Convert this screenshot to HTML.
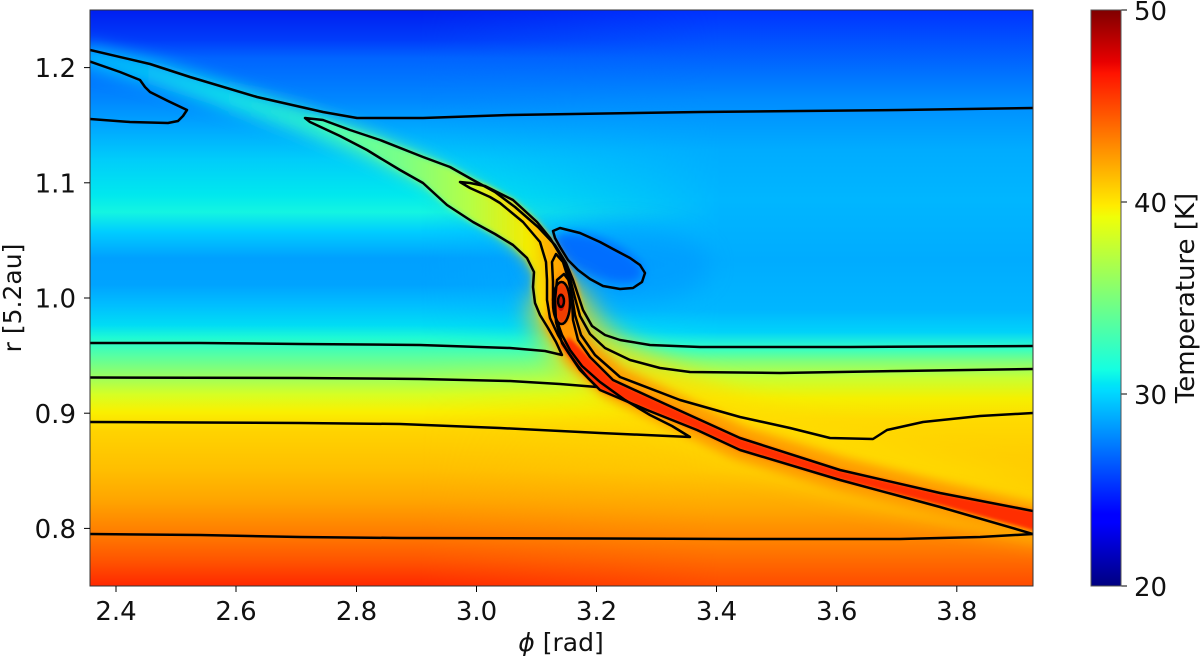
<!DOCTYPE html>
<html><head><meta charset="utf-8"><style>
html,body{margin:0;padding:0;background:#fff;}
svg{display:block;}
text{font-family:"DejaVu Sans","Liberation Sans",sans-serif;fill:#111;}
</style></head><body>
<svg width="1200" height="661" viewBox="0 0 1200 661" xmlns="http://www.w3.org/2000/svg">
<defs>
<linearGradient id="gl" gradientUnits="userSpaceOnUse" x1="0" y1="10" x2="0" y2="586">
<stop offset="0" stop-color="rgb(0,30,240)"/>
<stop offset=".052" stop-color="rgb(0,60,250)"/>
<stop offset=".083" stop-color="rgb(0,100,255)"/>
<stop offset=".156" stop-color="rgb(0,135,255)"/>
<stop offset=".208" stop-color="rgb(0,170,255)"/>
<stop offset=".260" stop-color="rgb(0,205,250)"/>
<stop offset=".321" stop-color="rgb(0,232,238)"/>
<stop offset=".351" stop-color="rgb(20,245,225)"/>
<stop offset=".385" stop-color="rgb(0,205,255)"/>
<stop offset=".431" stop-color="rgb(0,160,255)"/>
<stop offset=".477" stop-color="rgb(0,163,255)"/>
<stop offset=".512" stop-color="rgb(0,190,255)"/>
<stop offset=".547" stop-color="rgb(0,220,245)"/>
<stop offset=".569" stop-color="rgb(30,250,212)"/>
<stop offset=".599" stop-color="rgb(85,255,165)"/>
<stop offset=".634" stop-color="rgb(150,255,100)"/>
<stop offset=".668" stop-color="rgb(215,255,35)"/>
<stop offset=".698" stop-color="rgb(250,240,0)"/>
<stop offset=".729" stop-color="rgb(255,212,0)"/>
<stop offset=".799" stop-color="rgb(255,190,0)"/>
<stop offset=".851" stop-color="rgb(255,165,0)"/>
<stop offset=".903" stop-color="rgb(255,128,0)"/>
<stop offset=".955" stop-color="rgb(255,85,0)"/>
<stop offset="1" stop-color="rgb(255,40,0)"/>
</linearGradient>
<linearGradient id="gr" gradientUnits="userSpaceOnUse" x1="0" y1="10" x2="0" y2="586">
<stop offset="0" stop-color="rgb(0,50,255)"/>
<stop offset=".087" stop-color="rgb(0,100,255)"/>
<stop offset=".156" stop-color="rgb(0,140,255)"/>
<stop offset=".243" stop-color="rgb(0,172,255)"/>
<stop offset=".330" stop-color="rgb(0,182,255)"/>
<stop offset=".434" stop-color="rgb(0,172,255)"/>
<stop offset=".521" stop-color="rgb(0,182,255)"/>
<stop offset=".559" stop-color="rgb(0,210,250)"/>
<stop offset=".587" stop-color="rgb(50,255,200)"/>
<stop offset=".611" stop-color="rgb(130,255,120)"/>
<stop offset=".639" stop-color="rgb(200,255,50)"/>
<stop offset=".674" stop-color="rgb(245,240,0)"/>
<stop offset=".712" stop-color="rgb(255,218,0)"/>
<stop offset=".799" stop-color="rgb(255,200,0)"/>
<stop offset=".868" stop-color="rgb(255,165,0)"/>
<stop offset=".929" stop-color="rgb(255,125,0)"/>
<stop offset="1" stop-color="rgb(255,75,0)"/>
</linearGradient>
<linearGradient id="mk" gradientUnits="userSpaceOnUse" x1="420" y1="0" x2="720" y2="0">
<stop offset="0" stop-color="#000"/><stop offset="1" stop-color="#fff"/>
</linearGradient>
<mask id="m" maskUnits="userSpaceOnUse" x="0" y="0" width="1200" height="661"><rect x="90" y="10" width="943" height="576" fill="url(#mk)"/></mask>
<clipPath id="cp"><rect x="90" y="10" width="943" height="576"/></clipPath>
<linearGradient id="ga" gradientUnits="userSpaceOnUse" x1="90" y1="0" x2="565" y2="0">
<stop offset="0" stop-color="rgb(0,205,255)" stop-opacity=".75"/>
<stop offset=".3" stop-color="rgb(20,240,230)" stop-opacity=".85"/>
<stop offset=".5" stop-color="rgb(60,255,190)" stop-opacity=".85"/>
<stop offset=".72" stop-color="rgb(130,255,120)" stop-opacity=".9"/>
<stop offset=".9" stop-color="rgb(230,250,10)"/>
<stop offset="1" stop-color="rgb(255,170,0)"/>
</linearGradient>
<linearGradient id="gc" gradientUnits="userSpaceOnUse" x1="305" y1="0" x2="578" y2="0">
<stop offset="0" stop-color="rgb(70,255,185)"/>
<stop offset=".35" stop-color="rgb(120,255,135)"/>
<stop offset=".6" stop-color="rgb(180,255,70)"/>
<stop offset=".82" stop-color="rgb(245,235,0)"/>
<stop offset="1" stop-color="rgb(255,150,0)"/>
</linearGradient>
<linearGradient id="gd" gradientUnits="userSpaceOnUse" x1="460" y1="0" x2="578" y2="0">
<stop offset="0" stop-color="rgb(215,255,30)"/>
<stop offset=".6" stop-color="rgb(255,200,0)"/>
<stop offset="1" stop-color="rgb(255,140,0)"/>
</linearGradient>
<linearGradient id="cb" x1="0" y1="1" x2="0" y2="0">
<stop offset="0" stop-color="rgb(0,0,128)"/>
<stop offset=".11" stop-color="rgb(0,0,255)"/>
<stop offset=".125" stop-color="rgb(0,0,255)"/>
<stop offset=".34" stop-color="rgb(0,220,255)"/>
<stop offset=".35" stop-color="rgb(0,229,246)"/>
<stop offset=".375" stop-color="rgb(20,255,226)"/>
<stop offset=".5" stop-color="rgb(123,255,123)"/>
<stop offset=".64" stop-color="rgb(239,255,8)"/>
<stop offset=".66" stop-color="rgb(255,236,0)"/>
<stop offset=".89" stop-color="rgb(255,19,0)"/>
<stop offset=".91" stop-color="rgb(232,0,0)"/>
<stop offset="1" stop-color="rgb(128,0,0)"/>
</linearGradient>
<filter id="b1" filterUnits="userSpaceOnUse" x="0" y="0" width="1200" height="661"><feGaussianBlur stdDeviation="1.5"/></filter>
<filter id="b3" filterUnits="userSpaceOnUse" x="0" y="0" width="1200" height="661"><feGaussianBlur stdDeviation="3"/></filter>
<filter id="b5" filterUnits="userSpaceOnUse" x="0" y="0" width="1200" height="661"><feGaussianBlur stdDeviation="5"/></filter>
<filter id="b7" filterUnits="userSpaceOnUse" x="0" y="0" width="1200" height="661"><feGaussianBlur stdDeviation="8"/></filter>
<filter id="b12" filterUnits="userSpaceOnUse" x="0" y="0" width="1200" height="661"><feGaussianBlur stdDeviation="12"/></filter>
</defs>

<g clip-path="url(#cp)">
<rect x="90" y="10" width="943" height="576" fill="url(#gl)"/>
<rect x="90" y="10" width="943" height="576" fill="url(#gr)" mask="url(#m)"/>

<!-- cool lobe -->
<ellipse cx="620" cy="265" rx="90" ry="38" fill="rgb(0,150,255)" opacity=".55" filter="url(#b12)"/>
<ellipse cx="598" cy="258" rx="48" ry="19" transform="rotate(22 598 258)" fill="rgb(0,110,255)" filter="url(#b5)"/>

<!-- upper arm glow -->
<path d="M90,57 L150,72 L200,88 L300,120 L367,145 L423,170 L473,199 L510,224 L535,248 L552,274 L562,300" fill="none" stroke="url(#ga)" stroke-width="24" stroke-linecap="round" stroke-linejoin="round" filter="url(#b7)"/>
<!-- tongue C -->
<path d="M305,118 L323,120 L350,130 L380,140 L423,157 L450,167 L473,180 L495,192 L515,207 L538,227 L555,245 L566,263 L573,280 L578,295 L583,312 L575,335 L560,350 L548,328 L540,315 L535,303 L533,287 L534,272 L527,258 L513,245 L495,234 L473,222 L447,205 L423,183 L400,170 L380,158 L367,150 L340,136 L310,122 Z" fill="url(#gc)" filter="url(#b3)"/>
<!-- tongue D -->
<path d="M460,182 L485,186 L513,200 L537,222 L550,238 L562,258 L570,278 L575,298 L578,316 L560,330 L550,318 L547,300 L547,280 L546,262 L540,242 L523,222 L500,203 L490,197 L470,188 Z" fill="url(#gd)" filter="url(#b3)"/>

<!-- lower arm -->
<path d="M560,312 L578,343 L613,370 L663,394 L740,430 L840,461 L940,486 L1045,509" fill="none" stroke="rgb(255,222,0)" stroke-width="62" stroke-opacity=".75" stroke-linecap="round" filter="url(#b12)"/>
<path d="M562,322 L580,353 L613,382 L663,406 L740,443 L840,474 L940,499 L1045,523" fill="none" stroke="rgb(255,150,0)" stroke-width="34" stroke-opacity=".9" stroke-linecap="round" filter="url(#b5)"/>
<path d="M567,335 L590,358 L613,380 L663,403 L740,438 L840,470 L940,493 L1040,512 L1040,532 L940,505 L840,480 L740,450 L697,430 L647,410 L600,390 L580,370 L560,345 Z" fill="rgb(255,45,0)" filter="url(#b1)"/>

<!-- planet -->
<ellipse cx="563" cy="305" rx="15" ry="36" fill="rgb(255,150,0)" filter="url(#b3)"/>
<ellipse cx="562" cy="303" rx="9" ry="21" fill="rgb(240,60,0)" filter="url(#b1)"/>
<ellipse cx="561" cy="302" rx="4" ry="9" fill="rgb(205,20,0)"/>

<!-- contours -->
<g fill="none" stroke="#000" stroke-width="2.5" stroke-linejoin="round" stroke-linecap="round">
<path d="M90,50 L150,64 L190,77 L257,97 L323,112 L357,118 L423,118 L510,115 L700,112 L900,110 L1033,108"/>
<path d="M90,61.5 L120,72 L140,80 L145,87 L150,92 L168,101 L187,110 L183,116 L178,121 L168,123 L130,122 L90,119"/>
<path d="M90,343 L200,343 L300,344 L420,345 L510,348 L545,351 L562,355 L556,342 L548,328 L540,315 L535,303 L533,287 L534,272 L527,258 L513,245 L495,234 L473,222 L447,205 L423,183 L400,170 L380,158 L367,150 L340,136 L310,122 L305,118 L323,120 L350,130 L380,140 L423,157 L450,167 L473,180 L495,192 L515,207 L538,227 L555,245 L566,263 L573,280 L578,295 L583,310 L592,326 L605,335 L620,340 L650,345 L700,347 L850,347 L1033,346"/>
<path d="M90,377.5 L300,378 L420,379 L510,381 L560,384 L597,387 L588,378 L578,366 L568,352 L558,335 L550,318 L547,300 L547,280 L546,262 L540,242 L523,222 L500,203 L490,197 L470,188 L460,182 L470,183 L485,186 L513,200 L537,222 L550,238 L562,258 L570,278 L575,298 L580,316 L590,334 L605,348 L630,360 L660,368 L690,372 L780,373 L900,371 L1033,369"/>
<path d="M90,422 L200,422.5 L300,423 L400,424 L500,428 L600,433 L690,437 L672,426 L650,415 L625,400 L600,382 L582,366 L570,350 L562,335 L556,318 L553,300 L553,282 L552,262 L556,254 L563,262 L568,278 L572,296 L575,315 L581,335 L595,355 L620,377 L680,400 L740,417 L790,428 L830,438 L873,439 L887,430 L923,422 L980,416 L1033,413"/>
<path d="M1033,511 L940,493 L840,470 L740,438 L663,403 L613,380 L590,357 L578,340 L573,320 L572,300 L570,282 L564,274 L557,280 L555,300 L556,322 L562,343 L580,370 L600,390 L647,410 L697,430 L740,450 L840,480 L940,507 L1033,534"/>
<ellipse cx="561.5" cy="303" rx="8.5" ry="21"/>
<ellipse cx="561" cy="301" rx="3" ry="6"/>
<path d="M553,231 L560,228 L580,233 L600,242 L613,249 L630,258 L640,265 L645,273 L642,282 L633,288 L620,289 L603,286 L590,279 L578,270 L568,260 L560,247 L555,238 Z"/>
<path d="M90,534 L200,535 L300,537 L400,538 L600,538.5 L740,539 L900,539 L980,537 L1033,534"/>
</g>
</g>

<!-- frame -->
<rect x="90" y="10" width="943" height="576" fill="none" stroke="#333" stroke-width="1"/>

<g stroke="#000" stroke-width="1">
<line x1="84" y1="67.6" x2="90" y2="67.6"/>
<line x1="84" y1="182.8" x2="90" y2="182.8"/>
<line x1="84" y1="298" x2="90" y2="298"/>
<line x1="84" y1="413.2" x2="90" y2="413.2"/>
<line x1="84" y1="528.4" x2="90" y2="528.4"/>
<line x1="116" y1="586" x2="116" y2="592"/>
<line x1="236" y1="586" x2="236" y2="592"/>
<line x1="356.5" y1="586" x2="356.5" y2="592"/>
<line x1="476.5" y1="586" x2="476.5" y2="592"/>
<line x1="596.5" y1="586" x2="596.5" y2="592"/>
<line x1="716.5" y1="586" x2="716.5" y2="592"/>
<line x1="836.7" y1="586" x2="836.7" y2="592"/>
<line x1="956.8" y1="586" x2="956.8" y2="592"/>
<line x1="1121" y1="10" x2="1127" y2="10"/>
<line x1="1121" y1="202" x2="1127" y2="202"/>
<line x1="1121" y1="394" x2="1127" y2="394"/>
<line x1="1121" y1="586" x2="1127" y2="586"/>
</g>
<g font-size="26" text-anchor="end">
<text x="76" y="77.2">1.2</text>
<text x="76" y="192.4">1.1</text>
<text x="76" y="307.6">1.0</text>
<text x="76" y="422.8">0.9</text>
<text x="76" y="538">0.8</text>
</g>
<g font-size="26" text-anchor="middle">
<text x="116" y="620">2.4</text>
<text x="236" y="620">2.6</text>
<text x="356.5" y="620">2.8</text>
<text x="476.5" y="620">3.0</text>
<text x="596.5" y="620">3.2</text>
<text x="716.5" y="620">3.4</text>
<text x="836.7" y="620">3.6</text>
<text x="956.8" y="620">3.8</text>
</g>
<text x="561" y="651" font-size="25" text-anchor="middle"><tspan font-style="italic">ϕ</tspan> [rad]</text>
<text x="21" y="298" font-size="25" text-anchor="middle" transform="rotate(-90 21 298)">r [5.2au]</text>

<rect x="1091" y="10" width="30" height="576" fill="url(#cb)"/>
<rect x="1091" y="10" width="30" height="576" fill="none" stroke="#555" stroke-width="1"/>
<g font-size="26">
<text x="1134" y="20">50</text>
<text x="1134" y="212">40</text>
<text x="1134" y="404">30</text>
<text x="1134" y="596">20</text>
</g>
<text x="1194" y="298" font-size="26" text-anchor="middle" transform="rotate(-90 1194 298)">Temperature [K]</text>
</svg>
</body></html>
